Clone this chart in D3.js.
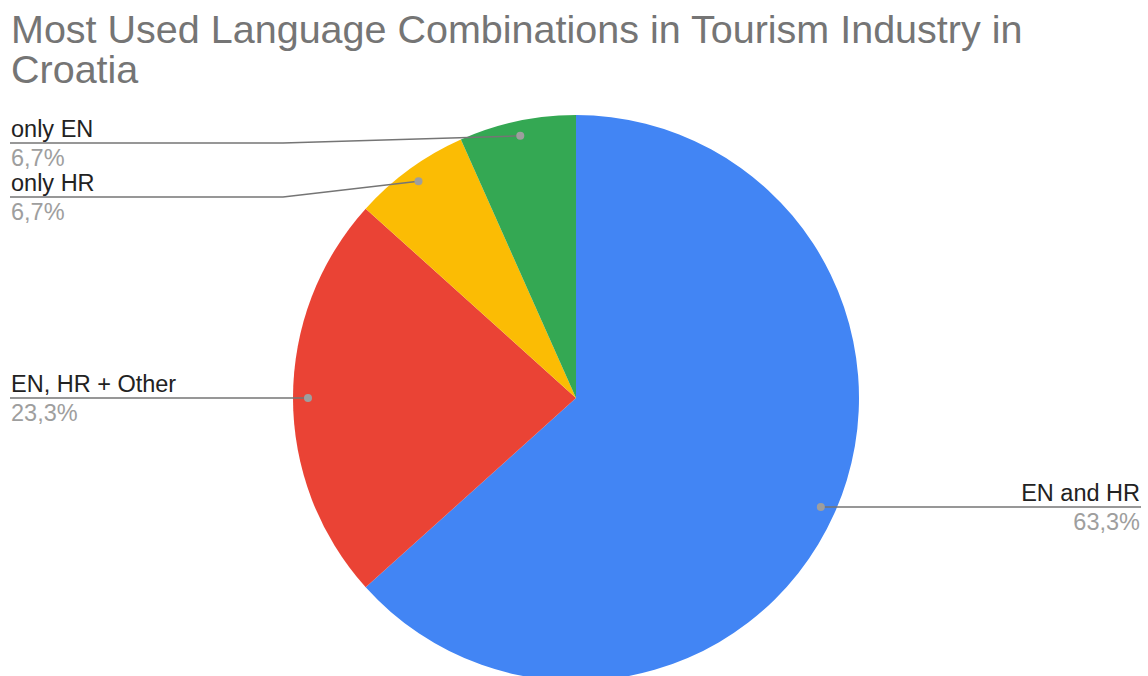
<!DOCTYPE html>
<html>
<head>
<meta charset="utf-8">
<script src="https://cdn.jsdelivr.net/npm/d3@7"></script>
<style>
  body { margin: 0; background: #fff; }
  text { font-family: "Liberation Sans", Arial, sans-serif; }
</style>
</head>
<body>
<svg id="chart" width="1148" height="676"></svg>
<script>
// data
let categories = ['EN and HR', 'EN, HR + Other', 'only HR', 'only EN'];
let counts = [19, 7, 2, 2];
let colors = ['#4285f4', '#ea4335', '#fbbc04', '#34a853'];
// where each label line ends up (y of the underline)
let labelLineY = [508, 399, 197, 143];

let svg = d3.select('#chart');
let cx = 576, cy = 398, R = 283;

// title
let title = svg.append('text')
    .attr('x', 11)
    .attr('fill', '#757575')
    .attr('font-size', 39.5);
title.append('tspan').attr('x', 11).attr('y', 43).text('Most Used Language Combinations in Tourism Industry in');
title.append('tspan').attr('x', 11).attr('y', 83).text('Croatia');

let total = d3.sum(counts);
let pct = d3.format('.1f');

let pie = d3.pie().sort(null).value(d => d);
let arcs = pie(counts);

let arc = d3.arc().innerRadius(0).outerRadius(R);
let dotArc = d3.arc().innerRadius(R * 0.947).outerRadius(R * 0.947);

let g = svg.append('g').attr('transform', 'translate(' + cx + ',' + cy + ')');

g.selectAll('path')
  .data(arcs)
  .enter().append('path')
    .attr('d', arc)
    .attr('fill', (d, i) => colors[i]);

// leader lines + labels
arcs.forEach(function(d, i){
  let p = dotArc.centroid(d);
  let px = cx + p[0], py = cy + p[1];
  let ly = labelLineY[i];
  let right = px > cx;
  let end = right ? 1141 : 10;
  let pts;
  if (Math.abs(py - ly) < 3) {
    ly = py;
    pts = [[px, py], [end, ly]];
  } else {
    pts = [[px, py], [283, ly], [end, ly]];
  }
  svg.append('path')
    .attr('d', d3.line()(pts))
    .attr('fill', 'none')
    .attr('stroke', '#757575')
    .attr('stroke-width', 1.5);
  svg.append('circle')
    .attr('cx', px).attr('cy', py).attr('r', 4)
    .attr('fill', '#9e9e9e');

  let tx = right ? 1140 : 11;
  let anchor = right ? 'end' : 'start';
  svg.append('text')
    .attr('x', tx).attr('y', ly - 6)
    .attr('text-anchor', anchor)
    .attr('font-size', 23.5)
    .attr('fill', '#222')
    .text(categories[i]);
  svg.append('text')
    .attr('x', tx).attr('y', ly + 23)
    .attr('text-anchor', anchor)
    .attr('font-size', 23.5)
    .attr('fill', '#9e9e9e')
    .text(pct(counts[i] / total * 100).replace('.', ',') + '%');
});
</script>
</body>
</html>
